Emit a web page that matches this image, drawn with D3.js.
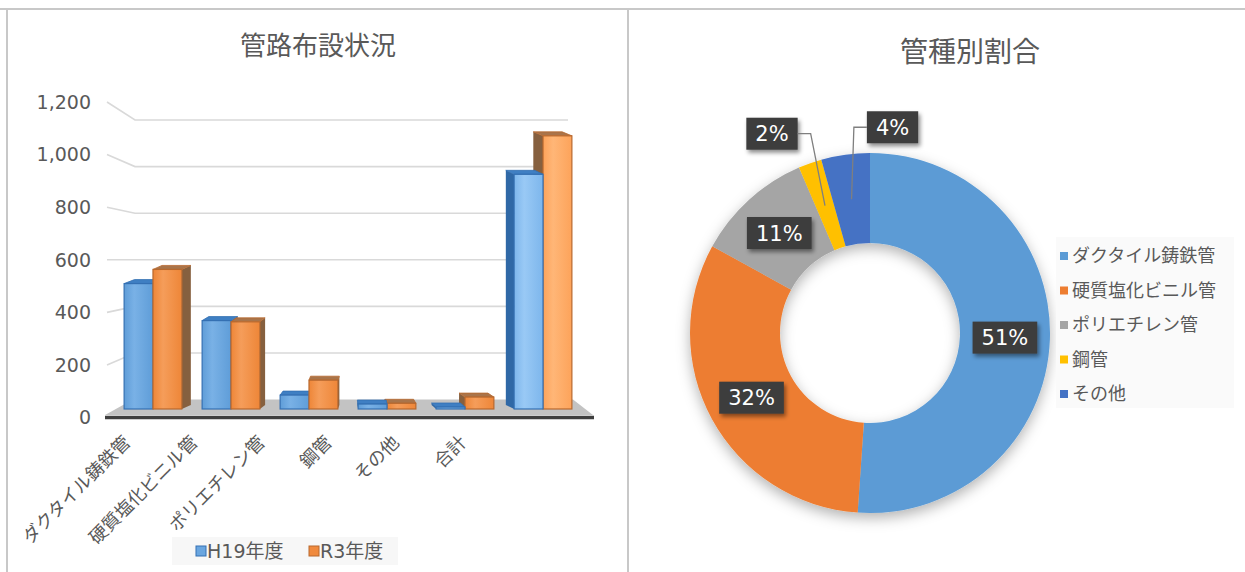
<!DOCTYPE html>
<meta charset="utf-8">
<style>
body { margin: 0; background: #fff; }
text { font-family: "DejaVu Sans", "Noto Sans CJK JP", sans-serif; fill: #595959; }
.title { font-family: "Noto Sans CJK JP", sans-serif; }
.cat { font-family: "Noto Sans CJK JP", sans-serif; font-size: 18px; }
.tick { font-size: 19px; }
.grid { fill: none; stroke: #d9d9d9; stroke-width: 1.6px; }
.pielabel { fill: #fff; font-size: 21px; }
</style>
<body>
<script src="https://d3js.org/d3.v7.min.js"></script>
<script>

// data
var categories = ["ダクタイル鋳鉄管", "硬質塩化ビニル管", "ポリエチレン管", "鋼管", "その他", "合計"];
var seriesNames = ["H19年度", "R3年度"];
var h19 = [505, 356, 56, 20, 8, 945];
var r3 = [562, 351, 116, 23, 48, 1100];
var yTicks = [0, 200, 400, 600, 800, 1000, 1200];
var pieNames = ["ダクタイル鋳鉄管", "硬質塩化ビニル管", "ポリエチレン管", "鋼管", "その他"];
var pieValues = [562, 351, 116, 23, 48];
var pieColors = ["#5b9bd5", "#ed7d31", "#a5a5a5", "#ffc000", "#4472c4"];

var W = 1245, H = 572;

var svg = d3.select("body").append("svg")
	.attr("width", W)
	.attr("height", H)
	.attr("xmlns", "http://www.w3.org/2000/svg");

var defs = svg.append("defs");

// gradients for the bar faces
function grad(id, c0, c1) {
	var g = defs.append("linearGradient").attr("id", id)
		.attr("x1", "0%").attr("x2", "100%").attr("y1", "0%").attr("y2", "0%");
	g.append("stop").attr("offset", "0%").attr("stop-color", c0);
	g.append("stop").attr("offset", "35%").attr("stop-color", c1);
	g.append("stop").attr("offset", "100%").attr("stop-color", c0);
}
grad("gBlue", "#5f9dd8", "#79b1e6");
grad("gOrange", "#ee8638", "#f59d5a");
grad("gBlueL", "#7db6ec", "#99c9f5");
grad("gOrangeL", "#fda35a", "#ffb677");

var sh = defs.append("filter").attr("id", "donutShadow")
	.attr("x", "-20%").attr("y", "-20%").attr("width", "140%").attr("height", "140%");
sh.append("feDropShadow").attr("dx", 0).attr("dy", 5).attr("stdDeviation", 7)
	.attr("flood-color", "#000").attr("flood-opacity", 0.3);

var bsh = defs.append("filter").attr("id", "boxShadow")
	.attr("x", "-20%").attr("y", "-20%").attr("width", "150%").attr("height", "150%");
bsh.append("feDropShadow").attr("dx", 2).attr("dy", 3).attr("stdDeviation", 2)
	.attr("flood-color", "#000").attr("flood-opacity", 0.45);

// panel frames
svg.append("line").attr("x1", 0).attr("x2", W).attr("y1", 9).attr("y2", 9)
	.attr("stroke", "#c8c8c8").attr("stroke-width", 2);
svg.append("line").attr("x1", 7).attr("x2", 7).attr("y1", 9).attr("y2", H)
	.attr("stroke", "#c8c8c8").attr("stroke-width", 2);
svg.append("line").attr("x1", 628).attr("x2", 628).attr("y1", 9).attr("y2", H)
	.attr("stroke", "#c8c8c8").attr("stroke-width", 2);

//
// ---- left: 3D column chart
//
svg.append("text").attr("class", "title")
	.attr("x", 318).attr("y", 55)
	.attr("text-anchor", "middle")
	.style("font-size", "26px")
	.text("管路布設状況");

// three depths of the box: front edge, bar plane, back wall
var yFront = d3.scaleLinear().domain([0, 1200]).range([417.6, 102]);
var yMid = d3.scaleLinear().domain([0, 1200]).range([409, 111]);
var yBack = d3.scaleLinear().domain([0, 1200]).range([399.6, 120]);

var x = d3.scaleBand().domain(categories).range([105, 591])
	.paddingInner(0.26).paddingOuter(0.245);
var xs = d3.scaleBand().domain(seriesNames).range([0, x.bandwidth()]);
var xLabel = d3.scalePoint().domain(categories).range([127, 463]);

var vx = 355, persp = 0.048, topDy = -4;

// floor
svg.append("polygon")
	.attr("points", [[105, 415], [133, yBack(0)], [573, yBack(0)], [593, 415]].join(" "))
	.attr("fill", "#c3c3c3");
svg.append("line").attr("x1", 105).attr("x2", 594)
	.attr("y1", yFront(0)).attr("y2", yFront(0))
	.attr("stroke", "#3f3f3f").attr("stroke-width", 3.5);

// gridlines: left wall slope then the back wall
svg.selectAll(".grid")
	.data(yTicks.slice(1))
	.enter().append("path")
		.attr("class", "grid")
		.attr("d", function(d) {
			return "M107," + yFront(d) + "L135," + yBack(d) + "L568," + yBack(d);
		});

svg.selectAll(".tick")
	.data(yTicks)
	.enter().append("text")
		.attr("class", "tick")
		.attr("x", 91)
		.attr("y", function(d) { return yFront(d); })
		.attr("dy", "0.36em")
		.attr("text-anchor", "end")
		.text(function(d) { return d3.format(",")(d); });

// bars, far ones first
var bars = [];
categories.forEach(function(c, i) {
	[h19[i], r3[i]].forEach(function(v, s) {
		var x0 = x(c) + xs(seriesNames[s]);
		var x1 = x0 + xs.bandwidth();
		bars.push({ cat: c, i: i, s: s, v: v, x0: x0, x1: x1,
			dx: (vx - (x0 + x1) / 2) * persp });
	});
});
bars.sort(function(a, b) {
	return Math.abs(b.x0 + b.x1 - 2 * vx) - Math.abs(a.x0 + a.x1 - 2 * vx);
});

var last = categories.length - 1;
var side = ["#2f68a6", "#86603f"];
var topc = ["#3f7fc3", "#a9744a"];
var edge = ["#3470b3", "#b8682e"];

var bar = svg.selectAll(".bar")
	.data(bars)
	.enter().append("g")
		.attr("class", "bar");

bar.append("polygon")
	.attr("fill", function(d) { return side[d.s]; })
	.attr("points", function(d) {
		var top = yMid(d.v), base = yMid(0);
		var ex = d.dx > 0 ? d.x1 : d.x0;
		return [[ex, top], [ex + d.dx, top + topDy], [ex + d.dx, base + topDy], [ex, base]].join(" ");
	});
bar.append("polygon")
	.attr("fill", function(d) { return topc[d.s]; })
	.attr("stroke", function(d) { return edge[d.s]; })
	.attr("stroke-width", 0.8)
	.attr("points", function(d) {
		var top = yMid(d.v);
		return [[d.x0, top], [d.x1, top], [d.x1 + d.dx, top + topDy], [d.x0 + d.dx, top + topDy]].join(" ");
	});
bar.append("rect")
	.attr("x", function(d) { return d.x0; })
	.attr("y", function(d) { return yMid(d.v); })
	.attr("width", function(d) { return d.x1 - d.x0; })
	.attr("height", function(d) { return yMid(0) - yMid(d.v); })
	.attr("fill", function(d) {
		var n = d.s === 0 ? "gBlue" : "gOrange";
		return "url(#" + n + (d.i === last ? "L" : "") + ")";
	})
	.attr("stroke", function(d) { return edge[d.s]; })
	.attr("stroke-width", 1.2);

// category labels
svg.selectAll(".cat")
	.data(categories)
	.enter().append("text")
		.attr("class", "cat")
		.attr("text-anchor", "end")
		.attr("dy", "0.35em")
		.attr("transform", function(d) {
			return "translate(" + xLabel(d) + ",439) rotate(-45)";
		})
		.text(function(d) { return d; });

// legend
svg.append("rect").attr("x", 172).attr("y", 537).attr("width", 226).attr("height", 28)
	.attr("fill", "#f7f7f7");
var leg = svg.selectAll(".leg")
	.data(seriesNames)
	.enter().append("g")
		.attr("class", "leg")
		.attr("transform", function(d, i) { return "translate(196," + 551 + ")translate(" + (i * 113) + ",0)"; });
leg.append("rect")
	.attr("x", 0).attr("y", -5).attr("width", 10).attr("height", 10)
	.attr("fill", function(d, i) { return i ? "#f08a3e" : "#6aa6e0"; })
	.attr("stroke", function(d, i) { return edge[i]; });
leg.append("text")
	.attr("x", 11).attr("dy", "0.36em")
	.style("font-size", "19px")
	.text(function(d) { return d; });

//
// ---- right: donut
//
svg.append("text").attr("class", "title")
	.attr("x", 970).attr("y", 62)
	.attr("text-anchor", "middle")
	.style("font-size", "28px")
	.text("管種別割合");

var cx = 870, cy = 333, R = 180, r0 = 90;
var pie = d3.pie().sort(null).value(function(d) { return d; });
var arcs = pie(pieValues);
var arc = d3.arc().innerRadius(r0).outerRadius(R);
var total = d3.sum(pieValues);

var dg = svg.append("g").attr("transform", "translate(" + cx + "," + cy + ")");
dg.append("g").attr("filter", "url(#donutShadow)")
	.selectAll("path")
	.data(arcs)
	.enter().append("path")
		.attr("d", arc)
		.attr("fill", function(d, i) { return pieColors[i]; });

// small slices get pulled-out labels with a leader line
var pulled = { 3: [-53, -72], 4: [41, -72] };

var lab = dg.selectAll(".plab")
	.data(arcs)
	.enter().append("g")
		.attr("class", "plab")
		.attr("transform", function(d, i) {
			var c = arc.centroid(d), o = pulled[i] || [0, 0];
			return "translate(" + (c[0] + o[0]) + "," + (c[1] + o[1]) + ")";
		});
lab.append("text")
	.attr("class", "pielabel")
	.attr("text-anchor", "middle")
	.attr("dy", "0.36em")
	.text(function(d) { return Math.round(d.value / total * 100) + "%"; });
lab.each(function(d) {
	var g = d3.select(this);
	var w = g.select("text").node().getComputedTextLength() + 18, h = 32;
	g.insert("rect", "text")
		.attr("x", -w / 2).attr("y", -h / 2).attr("width", w).attr("height", h)
		.attr("fill", "#3c3c3c")
		.attr("filter", "url(#boxShadow)");
	d.boxW = w;
});

dg.selectAll(".leader")
	.data(arcs.filter(function(d, i) { return pulled[i]; }))
	.enter().append("polyline")
		.attr("class", "leader")
		.attr("fill", "none")
		.attr("stroke", "#7f7f7f")
		.attr("stroke-width", 1.3)
		.attr("points", function(d) {
			var c = arc.centroid(d), o = pulled[d.index];
			var bx = c[0] + o[0], by = c[1] + o[1];
			var sgn = o[0] < 0 ? 1 : -1;
			var ex = bx + sgn * d.boxW / 2;
			return [[ex, by], [ex + sgn * 13, by], c].join(" ");
		});

// legend for the donut
svg.append("rect").attr("x", 1056).attr("y", 237).attr("width", 178).attr("height", 171)
	.attr("fill", "#fafafa");
var pl = svg.selectAll(".pleg")
	.data(pieNames)
	.enter().append("g")
		.attr("class", "pleg")
		.attr("transform", function(d, i) { return "translate(1060," + (256 + i * 34.5) + ")"; });
pl.append("rect")
	.attr("x", 0).attr("y", -4).attr("width", 8).attr("height", 8)
	.attr("fill", function(d, i) { return pieColors[i]; });
pl.append("text")
	.attr("x", 12).attr("dy", "0.36em")
	.style("font-size", "18px")
	.text(function(d) { return d; });

</script>
</body>
